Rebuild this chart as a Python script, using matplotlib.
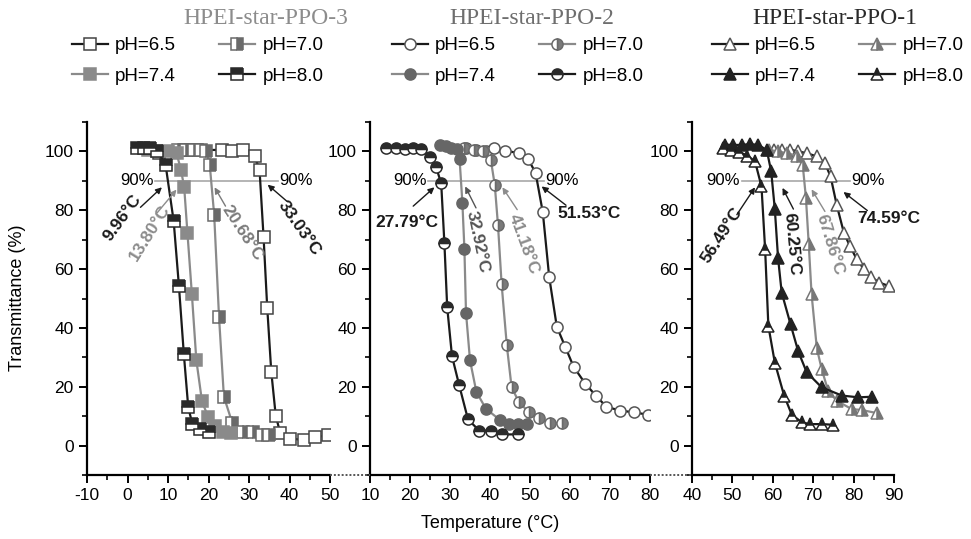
import matplotlib
matplotlib.use("Agg")
import matplotlib.pyplot as plt
from matplotlib.lines import Line2D
from matplotlib.ticker import MultipleLocator

plt.rcParams['font.family'] = ['Liberation Sans', 'DejaVu Sans']
plt.rcParams['axes.unicode_minus'] = False

# ---------------- data ----------------
labels = ['pH=6.5', 'pH=7.0', 'pH=7.4', 'pH=8.0']
titles = ['HPEI-star-PPO-3', 'HPEI-star-PPO-2', 'HPEI-star-PPO-1']

# HPEI-star-PPO-3 (squares)
t3_65 = [7.7, 14.3, 15.8, 17.2, 23.4, 25.9, 28.6, 31.4, 32.6, 33.6, 34.5, 35.5, 36.6, 37.7, 40.2, 43.5, 46.3, 49.5]
y3_65 = [99.5, 100.5, 100.5, 100.5, 100.5, 100.0, 100.5, 98.3, 93.8, 70.8, 46.9, 25.1, 10.2, 4.3, 2.3, 2.0, 2.8, 3.6]
t3_70 = [12.5, 14.5, 16.5, 18.2, 19.4, 20.3, 21.4, 22.6, 23.8, 25.9, 28.4, 30.9, 33.3, 35.0]
y3_70 = [100.5, 100.5, 100.5, 100.5, 100.0, 95.5, 78.5, 43.7, 16.6, 7.6, 4.5, 4.5, 3.7, 3.5]
t3_74 = [5.0, 7.3, 9.9, 12.1, 13.2, 14.0, 14.8, 15.9, 17.0, 18.4, 19.9, 21.6, 23.6, 25.5]
y3_74 = [100.5, 100.2, 100.0, 99.4, 93.8, 87.8, 72.3, 51.4, 29.0, 15.0, 9.8, 6.5, 4.5, 4.3]
t3_80 = [2.3, 4.0, 5.6, 7.4, 9.4, 11.4, 12.7, 13.9, 15.0, 16.0, 17.9, 20.1]
y3_80 = [101.1, 101.1, 101.0, 100.0, 95.5, 76.3, 54.2, 31.3, 13.0, 7.4, 5.7, 4.5]

# HPEI-star-PPO-2 (circles)
t2_65 = [34.0, 36.5, 39.0, 41.0, 43.7, 47.2, 49.5, 51.4, 53.2, 54.8, 56.7, 58.8, 60.9, 63.8, 66.5, 69.1, 72.5, 76.0, 79.5]
y2_65 = [101.1, 100.6, 100.0, 101.1, 100.3, 99.4, 97.5, 92.7, 79.3, 57.3, 40.4, 33.6, 26.8, 21.1, 16.9, 13.2, 11.9, 11.3, 10.5]
t2_70 = [33.6, 36.1, 38.3, 40.2, 41.2, 42.0, 42.9, 44.2, 45.4, 47.2, 49.7, 52.2, 55.1, 58.1]
y2_70 = [101.1, 100.6, 100.0, 97.2, 88.5, 74.9, 55.0, 34.1, 19.8, 14.9, 11.3, 9.4, 7.6, 7.6]
t2_74 = [27.4, 29.0, 30.3, 31.7, 32.4, 33.1, 33.6, 34.0, 35.0, 36.6, 39.0, 42.4, 44.7, 47.0, 49.3]
y2_74 = [102.2, 102.0, 101.2, 100.7, 97.3, 82.5, 66.9, 45.2, 29.0, 18.2, 12.5, 8.8, 7.2, 7.2, 7.2]
t2_80 = [14.1, 16.5, 18.7, 20.8, 22.8, 25.1, 26.5, 27.8, 28.6, 29.3, 30.5, 32.3, 34.5, 37.3, 40.2, 43.1, 47.0]
y2_80 = [101.0, 101.0, 100.8, 101.0, 100.8, 98.2, 94.8, 89.1, 68.8, 47.0, 30.4, 20.5, 8.9, 5.1, 5.1, 3.8, 3.8]

# HPEI-star-PPO-1 (triangles)
t1_65 = [60.2, 62.3, 64.3, 66.3, 68.4, 70.9, 72.9, 74.3, 75.8, 77.6, 79.1, 80.8, 82.6, 84.2, 86.4, 88.8]
y1_65 = [100.5, 100.5, 100.6, 100.0, 99.4, 98.3, 96.0, 91.5, 81.9, 72.3, 67.8, 63.3, 59.9, 57.4, 55.4, 54.2]
t1_70 = [59.0, 61.4, 63.4, 65.9, 67.4, 68.2, 68.9, 69.6, 70.9, 72.1, 73.7, 75.8, 79.5, 82.0, 85.9]
y1_70 = [100.5, 100.0, 99.4, 98.6, 95.5, 84.2, 68.4, 51.4, 33.1, 26.0, 18.6, 15.3, 12.4, 12.1, 11.0]
t1_74 = [48.2, 50.2, 52.3, 54.4, 56.4, 58.5, 59.6, 60.5, 61.3, 62.2, 64.4, 66.3, 68.4, 72.1, 77.1, 81.2, 84.5]
y1_74 = [102.3, 102.2, 102.2, 102.5, 102.2, 100.5, 93.2, 80.4, 63.8, 52.0, 41.2, 32.0, 24.9, 19.8, 17.0, 16.4, 16.6]
t1_80 = [47.6, 49.6, 51.7, 53.7, 55.6, 57.2, 58.1, 58.9, 60.5, 62.8, 64.7, 67.2, 69.2, 72.1, 74.8]
y1_80 = [101.1, 100.6, 99.8, 98.6, 96.6, 88.1, 66.7, 40.7, 28.2, 17.0, 10.5, 7.9, 7.3, 7.3, 7.1]

xlims = [(-10, 50), (10, 80), (40, 90)]
ninety = [(6.9, 37.1), (24.5, 53.4), (52.3, 79.1)]

# LCST annotations: text, text pos, arrow tail, arrow head, rotation, colour
notes = [
    [('9.96°C', (-1.3, 77.3), (3.2, 81.0), (8.5, 87.8), 54, '#1a1a1a'),
     ('13.80°C', (5.4, 72.2), (7.3, 79.1), (12.1, 87.0), 58, '#8c8c8c'),
     ('20.68°C', (28.4, 72.3), (24.2, 81.4), (21.5, 87.8), -57, '#7a7a7a'),
     ('33.03°C', (42.4, 74.0), (39.4, 83.0), (34.6, 88.7), -55, '#1a1a1a')],
    [('27.79°C', (19.1, 76.0), (20.8, 81.4), (26.1, 87.8), 0, '#1a1a1a'),
     ('32.92°C', (36.9, 69.3), (36.5, 80.8), (33.8, 88.1), -78, '#555555'),
     ('41.18°C', (48.5, 68.4), (46.8, 80.2), (43.1, 87.8), -70, '#8c8c8c'),
     ('51.53°C', (64.8, 78.8), (59.0, 81.7), (52.9, 88.1), 0, '#1a1a1a')],
    [('56.49°C', (47.3, 71.5), (51.1, 78.5), (55.6, 87.8), 57, '#1a1a1a'),
     ('60.25°C', (64.7, 68.4), (65.1, 80.4), (62.4, 87.6), -85, '#1a1a1a'),
     ('67.86°C', (74.2, 68.4), (72.9, 79.6), (69.6, 87.1), -73, '#8c8c8c'),
     ('74.59°C', (88.6, 77.2), (83.4, 79.9), (77.5, 86.2), 0, '#1a1a1a')],
]

BLACK = '#1a1a1a'
GRAY = '#8a8a8a'

fig = plt.figure(figsize=(9.71, 5.39), dpi=100)
W, H = 971.0, 539.0
bottom = 1 - 475 / H
height = (475 - 122) / H
ax3 = fig.add_axes([87 / W, bottom, 243 / W, height])
ax2 = fig.add_axes([370 / W, bottom, 280 / W, height])
ax1 = fig.add_axes([692 / W, bottom, 202 / W, height])
axes = [ax3, ax2, ax1]

series = [
    [(t3_65, y3_65), (t3_70, y3_70), (t3_74, y3_74), (t3_80, y3_80)],
    [(t2_65, y2_65), (t2_70, y2_70), (t2_74, y2_74), (t2_80, y2_80)],
    [(t1_65, y1_65), (t1_70, y1_70), (t1_74, y1_74), (t1_80, y1_80)],
]
markers = ['s', 'o', '^']
# style per pH: line colour, fillstyle, face, alt face, edge
styles = [
    [(BLACK, 'full', 'white', 'white', '#444444'),
     (GRAY, 'right', '#6a6a6a', 'white', '#6a6a6a'),
     (GRAY, 'full', '#8a8a8a', '#8a8a8a', '#8a8a8a'),
     (BLACK, 'top', '#2a2a2a', 'white', '#2a2a2a')],
    [(BLACK, 'full', 'white', 'white', '#555555'),
     (GRAY, 'right', '#7a7a7a', 'white', '#6a6a6a'),
     (GRAY, 'full', '#666666', '#666666', '#666666'),
     (BLACK, 'top', '#2a2a2a', 'white', '#2a2a2a')],
    [(BLACK, 'full', 'white', 'white', '#555555'),
     (GRAY, 'right', '#777777', 'white', '#777777'),
     (BLACK, 'full', '#222222', '#222222', '#222222'),
     (BLACK, 'top', '#222222', 'white', '#222222')],
]
legend_x = [72, 392, 712]

for i, ax in enumerate(axes):
    handles = []
    for j, (t, y) in enumerate(series[i]):
        lc, fs, fc, fca, ec = styles[i][j]
        h, = ax.plot(t, y, color=lc, lw=1.6, marker=markers[i], ms=8,
                     fillstyle=fs, markerfacecolor=fc, markerfacecoloralt=fca,
                     markeredgecolor=ec, markeredgewidth=1.1, label=labels[j],
                     zorder=3 + j)
        handles.append(h)
    ax.set_xlim(*xlims[i])
    ax.set_ylim(-10, 110)
    for s in ['top', 'right']:
        ax.spines[s].set_visible(False)
    for s in ['left', 'bottom']:
        ax.spines[s].set_linewidth(1.6)
    ax.xaxis.set_major_locator(MultipleLocator(10))
    ax.xaxis.set_minor_locator(MultipleLocator(5))
    ax.yaxis.set_major_locator(MultipleLocator(20))
    ax.yaxis.set_minor_locator(MultipleLocator(10))
    ax.tick_params(which='major', direction='out', length=6, width=1.4, labelsize=12.5)
    ax.tick_params(which='minor', direction='out', length=3.5, width=1.2)
    ax.set_yticks([0, 20, 40, 60, 80, 100])
    ax.patch.set_alpha(0)

    # 90 % guide
    x0, x1 = ninety[i]
    ax.plot([x0, x1], [90, 90], color='#a8a8a8', lw=1.2, zorder=2)
    ax.text(x0 - 0.4, 90, '90%', ha='right', va='center', fontsize=12)
    ax.text(x1 + 0.4, 90, '90%', ha='left', va='center', fontsize=12)

    for txt, tpos, tail, head, rot, col in notes[i]:
        ax.annotate('', xy=head, xytext=tail,
                    arrowprops=dict(arrowstyle='-|>', color=col, lw=1.0,
                                    mutation_scale=9, shrinkA=0, shrinkB=0),
                    zorder=8)
        ax.text(tpos[0], tpos[1], txt, rotation=rot, ha='center', va='center',
                fontsize=12.5, fontweight='bold', color=col,
                rotation_mode='anchor', zorder=8)

    order = [0, 2, 1, 3]
    fig.legend([handles[k] for k in order], [labels[k] for k in order],
               loc='upper left', bbox_to_anchor=(legend_x[i] / W, 1 - 37 / H),
               ncol=2, frameon=False, fontsize=13.5, handlelength=1.9,
               handletextpad=0.4, columnspacing=2.3, labelspacing=0.72,
               borderpad=0, borderaxespad=0)

# dotted axis breaks
for a, b in [(ax3, ax2), (ax2, ax1)]:
    xa = a.get_position().x1
    xb = b.get_position().x0
    fig.add_artist(Line2D([xa, xb], [bottom, bottom], transform=fig.transFigure,
                          color='#555555', lw=1.4, ls=(0, (1, 1))))

title_x = [266, 532, 835]
title_c = ['#8c8c8c', '#6e6e6e', '#2a2a2a']
for k in range(3):
    fig.text(title_x[k] / W, 1 - 19 / H, titles[k], ha='center', va='center',
             fontsize=17, family='Liberation Serif', color=title_c[k])

fig.text(18 / W, 1 - 298 / H, 'Transmittance (%)', rotation=90,
         ha='center', va='center', fontsize=13)
fig.text(490 / W, 1 - 524 / H, 'Temperature (°C)', ha='center', va='center',
         fontsize=13)

fig.savefig('out.png', dpi=100)
